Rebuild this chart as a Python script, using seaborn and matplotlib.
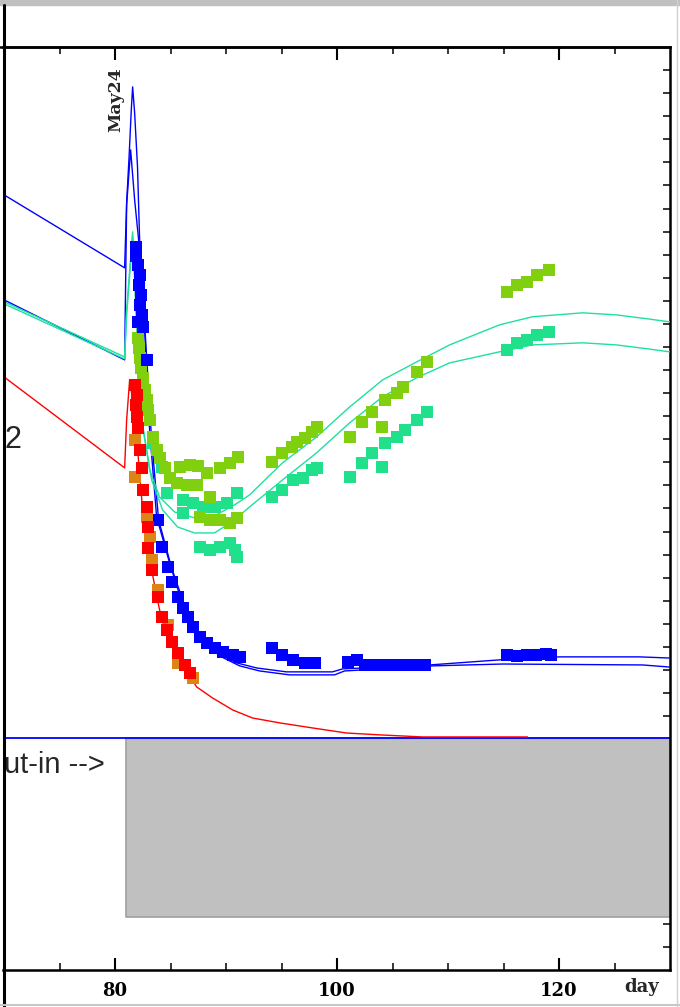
import numpy as np
import pandas as pd
import matplotlib
matplotlib.use("Agg")
import matplotlib.pyplot as plt
import matplotlib.transforms as mtransforms
from matplotlib.lines import Line2D
from matplotlib.patches import Rectangle
import seaborn as sns

sns.set_style("white")
plt.rcParams['font.family'] = ['DejaVu Sans']

# ---------------- data ----------------
# model curves (day, level)
blue_a_x = [70.0, 80.86, 81.04, 81.26, 81.46, 81.58, 81.76, 82.02, 82.21, 82.66, 83.11, 83.74, 84.91,
            86.44, 87.61, 89.14, 90.95, 92.75, 95.45, 99.59, 100.5, 108.33, 114.64, 120.05, 127.25, 129.95]
blue_a_y = [33.59, 30.43, 33.25, 35.24, 37.28, 38.27, 37.15, 34.81, 31.64, 27.74, 23.41, 19.64, 17.64,
            15.30, 14.43, 13.74, 13.31, 13.09, 12.92, 12.92, 13.05, 13.22, 13.44, 13.57, 13.57, 13.52]
blue_b_x = [70.0, 80.86, 81.04, 81.40, 81.76, 82.30, 82.75, 83.29, 83.92, 85.09, 86.71, 87.88, 89.41,
            91.22, 93.02, 95.72, 99.77, 100.68, 108.6, 114.91, 127.52, 129.95]
blue_b_y = [29.04, 26.44, 33.16, 35.54, 33.38, 30.78, 27.31, 22.97, 19.51, 17.43, 15.17, 14.30, 13.61,
            13.18, 12.96, 12.79, 12.79, 12.96, 13.18, 13.26, 13.22, 13.13]
green_a_x = [70.0, 80.86, 81.04, 81.58, 81.94, 82.39, 83.11, 84.01, 85.36, 87.16, 88.96, 90.77, 92.12,
             95.09, 98.15, 101.13, 104.1, 107.16, 110.14, 114.64, 117.61, 122.12, 125.18, 127.97, 129.95]
green_a_y = [28.96, 26.57, 28.61, 31.99, 27.74, 23.84, 21.67, 20.50, 19.85, 19.59, 19.68, 20.16, 20.59,
             21.98, 23.10, 24.40, 25.57, 26.35, 27.09, 27.96, 28.31, 28.48, 28.39, 28.22, 28.09]
green_b_x = [70.0, 80.86, 81.04, 81.58, 82.03, 82.48, 83.29, 84.28, 85.63, 87.16, 88.96, 90.77, 92.12,
             95.09, 98.15, 101.13, 104.1, 107.16, 110.14, 114.64, 117.61, 122.12, 125.18, 127.97, 129.95]
green_b_y = [28.87, 26.48, 28.39, 31.82, 27.52, 23.62, 21.24, 19.94, 19.20, 18.94, 18.94, 19.51, 20.07,
             21.24, 22.41, 23.71, 24.84, 25.66, 26.31, 26.79, 27.09, 27.18, 27.09, 26.92, 26.79]
red_x = [70.0, 80.86, 81.04, 81.31, 81.58, 82.03, 82.48, 83.11, 84.01, 85.36, 87.34, 88.78, 90.59,
         92.39, 94.82, 97.79, 100.86, 103.83, 107.7, 117.16]
red_y = [25.70, 21.76, 23.84, 25.57, 24.71, 22.54, 19.94, 17.77, 15.60, 13.87, 12.27, 11.79, 11.27,
         10.92, 10.71, 10.49, 10.27, 10.19, 10.10, 10.10]

# observations (day, level)
obs_blue_x = [81.85, 81.85, 82.03, 82.21, 82.12, 82.30, 82.21, 82.39, 82.03, 82.48, 82.84, 83.83, 84.19,
              84.73, 85.09, 85.63, 86.08, 86.53, 86.98, 87.61, 88.24, 88.96, 89.68, 90.59, 91.22,
              94.10, 95.00, 95.99, 97.07, 97.97, 100.95, 101.76, 102.48, 103.38, 104.28, 105.18,
              106.08, 106.98, 107.88, 115.27, 116.17, 117.07, 117.97, 118.87, 119.32]
obs_blue_y = [31.34, 30.95, 30.56, 30.13, 29.69, 29.26, 28.83, 28.39, 28.09, 27.87, 26.44, 19.51, 18.34,
              17.47, 16.82, 16.17, 15.69, 15.30, 14.87, 14.43, 14.17, 13.96, 13.78, 13.65, 13.57,
              13.96, 13.65, 13.44, 13.31, 13.31, 13.35, 13.44, 13.22, 13.22, 13.22, 13.22,
              13.22, 13.22, 13.22, 13.65, 13.61, 13.65, 13.65, 13.70, 13.65]
obs_teal_x = [83.38, 84.19, 84.64, 86.08, 86.98, 87.88, 88.96, 90.05, 90.95, 86.08, 87.61, 88.51, 89.41,
              90.32, 90.77, 90.95, 94.10, 95.00, 95.99, 96.89, 97.70, 98.15, 101.13, 102.21, 103.11,
              104.01, 104.28, 105.36, 106.08, 107.16, 108.06, 115.27, 116.17, 117.16, 118.06, 119.14]
obs_teal_y = [22.84, 21.80, 20.68, 20.37, 20.24, 20.07, 20.07, 20.24, 20.68, 19.81, 18.34, 18.21, 18.34,
              18.51, 18.21, 17.90, 20.50, 20.81, 21.24, 21.33, 21.67, 21.76, 21.37, 21.98, 22.41,
              21.80, 22.84, 23.10, 23.41, 23.84, 24.19, 26.87, 27.18, 27.31, 27.52, 27.65]
obs_lime_x = [82.03, 82.12, 82.21, 82.30, 82.48, 82.66, 82.84, 82.93, 83.11, 83.38, 83.74, 84.01, 84.46,
              84.91, 85.54, 86.44, 87.34, 85.81, 86.71, 87.43, 88.24, 89.41, 90.32, 91.04, 87.61,
              88.51, 89.41, 90.32, 90.95, 88.51, 94.10, 95.00, 95.90, 96.35, 97.07, 97.70, 98.15,
              101.13, 102.21, 103.11, 104.01, 104.28, 105.36, 105.90, 107.16, 108.06, 115.27,
              116.17, 117.16, 118.06, 119.14]
obs_lime_y = [27.39, 26.96, 26.53, 26.09, 25.66, 25.14, 24.71, 24.27, 23.84, 23.10, 22.54, 22.19, 21.76,
              21.33, 21.11, 21.02, 21.02, 21.80, 21.89, 21.85, 21.54, 21.76, 21.98, 22.24, 19.64,
              19.51, 19.51, 19.38, 19.59, 20.50, 22.02, 22.41, 22.67, 22.89, 23.06, 23.32, 23.54,
              23.10, 23.75, 24.19, 23.54, 24.71, 25.01, 25.27, 25.92, 26.35, 29.39,
              29.69, 29.82, 30.13, 30.34]
obs_orange_x = [81.76, 81.76, 82.84, 83.11, 83.29, 83.83, 84.73, 85.63, 86.98]
obs_orange_y = [22.97, 21.37, 19.64, 18.77, 17.77, 16.47, 14.95, 13.31, 12.66]
obs_red_x = [81.76, 81.94, 81.85, 81.94, 82.03, 82.21, 82.39, 82.48, 82.84, 82.93, 82.93, 83.29, 83.83,
             84.19, 84.64, 85.09, 85.63, 86.26, 86.71]
obs_red_y = [25.36, 24.92, 24.49, 23.97, 23.49, 22.54, 21.76, 20.81, 20.07, 19.20, 18.29, 17.34, 16.17,
             15.30, 14.74, 14.22, 13.74, 13.22, 12.87]

cutin_level = 10.05
shade_start, shade_end, shade_low = 81.0, 130.0, 2.3
major_ticks = [80, 100, 120]
minor_ticks = [70, 75, 85, 90, 95, 105, 110, 115, 125]
event_day, event_label = 80.05, "May24"

# ---------------- figure ----------------
W, H = 680, 1007
fig = plt.figure(figsize=(W / 100, H / 100), dpi=100)
ax = fig.add_axes([3 / W, 37 / H, 667 / W, 923 / H])
ax.set_xlim(69.9, 130.0)
ax.set_ylim(0, 40)

BLUE = "#0000ff"
LINE_GREEN = "#1ee0a0"
TEAL = "#20e08c"
LIME = "#80d010"
RED = "#ff0000"
ORANGE = "#dc8414"

# shaded region and cut-in line
ax.fill_between([shade_start, shade_end], shade_low, cutin_level, color="#c0c0c0",
                edgecolor="#a0a0a0", linewidth=1.2, zorder=1)
ax.axhline(cutin_level, color=BLUE, lw=1.3, zorder=2)

curves = [(blue_a_x, blue_a_y, BLUE), (blue_b_x, blue_b_y, BLUE),
          (green_a_x, green_a_y, LINE_GREEN), (green_b_x, green_b_y, LINE_GREEN),
          (red_x, red_y, RED)]
for cx, cy, col in curves:
    df = pd.DataFrame({"day": cx, "level": cy})
    sns.lineplot(data=df, x="day", y="level", sort=False, estimator=None, color=col,
                 lw=1.0, ax=ax, zorder=3)

obs = [(obs_teal_x, obs_teal_y, TEAL), (obs_lime_x, obs_lime_y, LIME),
       (obs_blue_x, obs_blue_y, BLUE), (obs_orange_x, obs_orange_y, ORANGE),
       (obs_red_x, obs_red_y, RED)]
for ox, oy, col in obs:
    df = pd.DataFrame({"day": ox, "level": oy})
    sns.scatterplot(data=df, x="day", y="level", marker="s", s=74, color=col,
                    linewidth=0, ax=ax, zorder=4)

ax.set_xlabel("")
ax.set_ylabel("")

# ticks
ax.set_xticks(major_ticks)
ax.set_xticklabels([str(t) for t in major_ticks])
ax.set_xticks(minor_ticks, minor=True)
ax.tick_params(axis="x", which="major", direction="in", length=9, width=1.5, top=True,
               bottom=True, pad=9, colors="black")
ax.tick_params(axis="x", which="minor", direction="in", length=5, width=1.3, top=True,
               bottom=True)
for lab in ax.get_xticklabels():
    lab.set_fontfamily("DejaVu Serif")
    lab.set_fontweight("bold")
    lab.set_fontsize(13)
ax.yaxis.tick_right()
ax.set_yticks(np.arange(1, 40, 1))
ax.set_yticklabels([])
ax.tick_params(axis="y", which="major", direction="in", length=5, width=1.3, left=False,
               right=True)

for side in ["top", "bottom", "right"]:
    ax.spines[side].set_visible(True)
    ax.spines[side].set_color("black")
    ax.spines[side].set_linewidth(1.8)
ax.spines["left"].set_visible(False)

# texts
trans = mtransforms.blended_transform_factory(ax.transData, ax.transAxes)
ax.text(127.4, -0.0185, "day", transform=trans, ha="center", va="center",
        fontfamily="DejaVu Serif", fontweight="bold", fontsize=13)
ax.text(event_day, 37.7, event_label, rotation=90, ha="center", va="center",
        fontfamily="DejaVu Serif", fontweight="bold", fontsize=12.5, zorder=5)
ax.text(70.0, 22.97, "2", ha="left", va="center", fontfamily="Liberation Sans",
        fontsize=22, clip_on=False)
ax.text(70.0, 8.89, "ut-in -->", ha="left", va="center", fontfamily="Liberation Sans",
        fontsize=21, clip_on=False)

# frame decorations
fig.patches.append(Rectangle((0, 1 - 5 / H), 1, 5 / H, transform=fig.transFigure,
                             color="#c0c0c0", zorder=0))
fig.lines.append(Line2D([3.5 / W, 3.5 / W], [0, 1 - 5 / H], transform=fig.transFigure,
                        color="black", lw=2.2))
fig.lines.append(Line2D([0, 670 / W], [1 - 47 / H, 1 - 47 / H], transform=fig.transFigure,
                        color="black", lw=1.8))
fig.lines.append(Line2D([677 / W, 677 / W], [0, 1], transform=fig.transFigure,
                        color="#d0d0d0", lw=1.0))
fig.lines.append(Line2D([0, 1], [2 / H, 2 / H], transform=fig.transFigure,
                        color="#c8c8c8", lw=1.5))

fig.savefig("out.png", dpi=100)
